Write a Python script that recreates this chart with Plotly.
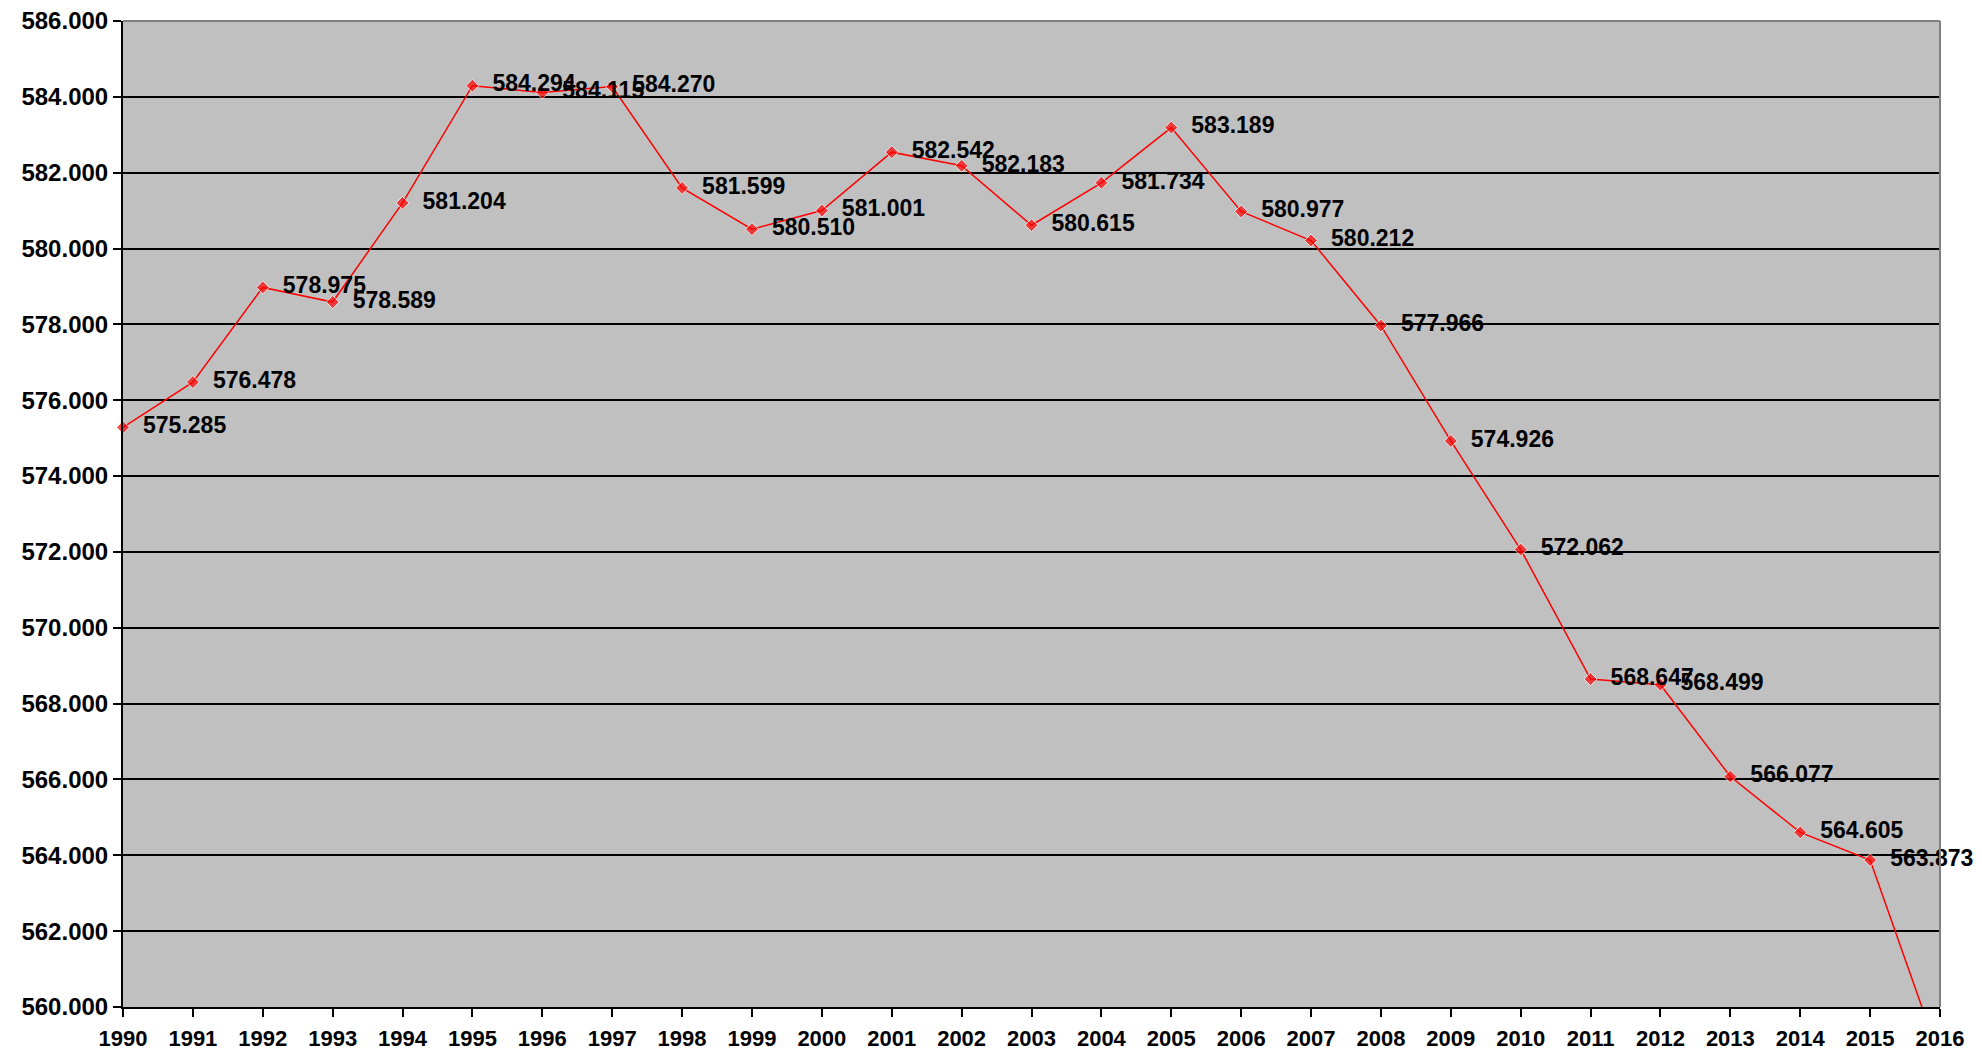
import plotly.graph_objects as go

years = list(range(1990, 2017))
values = [575285, 576478, 578975, 578589, 581204, 584294, 584115, 584270,
          581599, 580510, 581001, 582542, 582183, 580615, 581734, 583189,
          580977, 580212, 577966, 574926, 572062, 568647, 568499, 566077,
          564605, 563873, 558650]
y_ticks = list(range(560000, 586001, 2000))
y_tick_labels = [f"{v:,}".replace(",", ".") for v in y_ticks]
# the 2016 point lies below the visible range, so its label is not shown
labels = ["  " + f"{v:,}".replace(",", ".") if v >= 560000 else "" for v in values]
marker_sizes = [10 if v >= 560000 else 0 for v in values]

FONT = "Liberation Sans, Arial, sans-serif"

fig = go.Figure()
fig.add_trace(go.Scatter(
    x=years, y=values, mode="lines+markers+text",
    line=dict(color="#FF0000", width=1.5),
    marker=dict(symbol="diamond", size=marker_sizes, color="#FF0000"),
    text=labels, textposition="middle right",
    textfont=dict(family=FONT, size=23, color="black", weight="bold"),
    cliponaxis=False, showlegend=False,
))

# the page body adds an 8px margin, so the figure is 8px smaller than the window
fig.update_layout(
    width=1974, height=1048,
    margin=dict(l=115, r=42, t=13, b=49, autoexpand=False),
    paper_bgcolor="white", plot_bgcolor="#C0C0C0",
    font=dict(family=FONT, size=23, color="black", weight="bold"),
    xaxis=dict(range=[1990, 2016], tickmode="array", tickvals=years,
               ticktext=[str(y) for y in years], showgrid=False,
               showline=True, linecolor="black", linewidth=2,
               ticks="outside", ticklen=8, tickwidth=2, tickcolor="black",
               tickfont=dict(family=FONT, size=22, color="black", weight="bold"),
               ticklabelstandoff=3, ticklabeloverflow="allow",
               zeroline=False, automargin=False),
    yaxis=dict(range=[560000, 586000], tickmode="array", tickvals=y_ticks,
               ticktext=y_tick_labels, ticksuffix="\u2007",
               showgrid=True, gridcolor="black",
               gridwidth=2, showline=True, linecolor="black", linewidth=2,
               ticks="outside", ticklen=8, tickwidth=2, tickcolor="black",
               tickfont=dict(family=FONT, size=24, color="black", weight="bold"),
               ticklabeloverflow="allow",
               zeroline=False, automargin=False),
    shapes=[
        dict(type="line", xref="paper", yref="paper", x0=0, x1=1, y0=1, y1=1,
             line=dict(color="#808080", width=2)),
        dict(type="line", xref="paper", yref="paper", x0=1, x1=1, y0=0, y1=1,
             line=dict(color="#808080", width=2)),
    ],
)

fig.write_html("out.html")
